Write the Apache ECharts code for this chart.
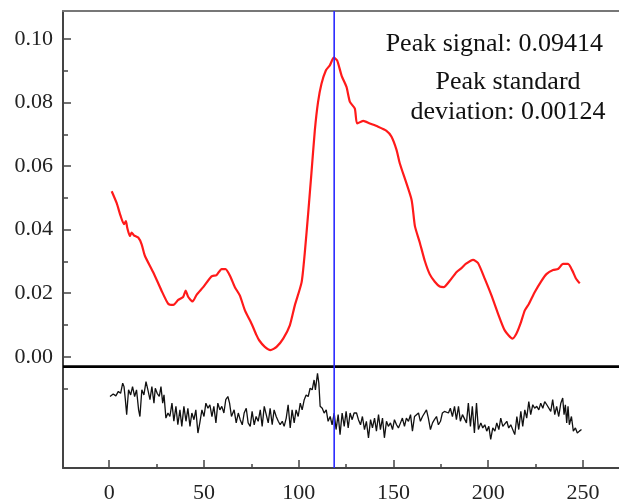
<!DOCTYPE html>
<html>
<head>
<meta charset="utf-8">
<script src="https://cdn.jsdelivr.net/npm/echarts@6/dist/echarts.min.js"></script>
<style>html,body{margin:0;padding:0;background:#fff;}#main{width:619px;height:504px;}</style>
</head>
<body>
<div id="main"></div>
<script>
// ---- data ----
const signalX = [1.3,3.9,6.0,7.8,8.8,9.5,10.9,11.8,13.0,15.3,17.1,18.8,23.2,27.6,31.1,33.8,36.4,39.0,40.3,41.7,44.0,46.1,49.6,54.0,56.6,59.3,61.4,63.7,66.3,68.9,71.6,75.1,77.7,79.1,82.1,85.1,88.3,91.8,95.3,97.9,101.5,103.2,105.0,106.7,108.5,110.2,112.0,114.3,116.4,118.5,120.3,122.6,125.2,127.0,129.6,130.8,134.0,137.5,141.9,146.3,148.9,151.6,153.3,159.5,161.3,163.9,166.5,169.1,171.8,174.4,176.5,179.7,183.2,185.9,188.1,192.0,194.6,198.2,201.7,205.2,208.7,212.8,214.9,217.0,219.3,221.5,224.5,228.1,230.7,234.2,236.8,239.5,242.1,244.4,246.2,248.3];
const signalY = [0.0521,0.0484,0.0443,0.0417,0.0427,0.0406,0.0380,0.0391,0.0382,0.0375,0.0354,0.0318,0.0266,0.0208,0.0167,0.0163,0.0179,0.0188,0.0208,0.0188,0.0174,0.0195,0.0219,0.0253,0.0257,0.0276,0.0276,0.0255,0.0219,0.0193,0.0146,0.0104,0.0068,0.0052,0.0031,0.0021,0.0031,0.0057,0.0099,0.0161,0.0234,0.0328,0.0453,0.0578,0.0713,0.0802,0.0859,0.0901,0.0917,0.0941,0.0932,0.0885,0.0849,0.0802,0.0781,0.0734,0.0742,0.0734,0.0724,0.0711,0.0693,0.0651,0.0609,0.0495,0.0411,0.0359,0.0302,0.0260,0.0236,0.0221,0.0219,0.0239,0.0266,0.0279,0.0292,0.0305,0.0295,0.0245,0.0193,0.0135,0.0083,0.0057,0.0073,0.0104,0.0146,0.0167,0.0203,0.0239,0.0260,0.0273,0.0276,0.0292,0.0292,0.0271,0.0247,0.0231];

const residX = [0.4,2.1,3.5,4.8,6.0,7.1,7.8,8.5,9.2,10.2,11.3,12.3,13.4,14.4,15.5,16.2,17.2,18.3,19.4,20.4,21.5,22.5,23.6,24.3,25.3,26.4,27.3,28.2,28.9,29.9,31.0,32.0,33.1,34.1,35.2,36.2,37.3,38.3,39.4,40.5,41.5,42.6,43.6,44.7,45.7,46.8,47.8,48.9,50.0,51.0,52.1,53.1,54.2,55.2,56.3,57.3,58.4,59.4,60.5,61.5,62.6,
63.5,64.5,65.9,67.0,68.1,69.1,70.2,71.2,72.3,73.3,74.4,75.4,76.5,77.5,78.6,79.7,80.7,81.8,82.8,83.9,84.9,86.0,87.0,88.1,89.2,90.2,91.3,92.3,93.4,94.4,95.5,96.5,97.6,98.6,99.7,100.8,101.8,102.9,103.9,105.0,106.0,107.1,108.1,108.8,109.9,110.6,111.3,112.4,113.4,114.5,115.5,116.6,117.6,118.7,119.7,120.8,121.8,122.9,124.0,125.0,126.1,127.1,128.2,129.2,
130.5,131.5,132.6,133.6,134.7,135.7,136.8,137.9,138.9,140.0,141.0,142.1,143.1,144.2,145.2,146.3,147.3,148.4,149.5,150.5,151.6,152.6,153.7,154.7,155.8,156.8,157.9,159.0,160.0,161.1,162.1,163.2,164.2,165.3,166.3,167.4,168.4,169.5,170.6,171.6,172.7,173.7,174.8,175.8,176.9,177.9,179.0,180.0,181.1,182.2,183.2,184.3,185.3,186.4,187.4,188.5,189.5,190.6,191.6,192.7,193.8,194.8,
196.1,197.1,198.2,199.2,200.3,201.3,202.4,203.5,204.5,205.6,206.6,207.7,208.7,209.8,210.8,211.9,212.9,214.0,215.1,216.1,217.2,218.2,219.3,220.3,221.4,222.4,223.5,224.5,225.6,226.7,227.7,228.8,229.8,230.9,231.9,233.0,234.0,235.1,236.1,237.2,238.3,239.3,240.0,240.7,241.4,242.1,242.8,243.9,244.9,246.0,247.0,248.1,249.2];
const residY = [-0.0125,-0.0117,-0.0123,-0.0109,-0.0115,-0.0083,-0.0094,-0.0135,-0.0182,-0.0104,-0.0120,-0.0094,-0.0125,-0.0104,-0.0167,-0.0188,-0.0104,-0.0120,-0.0078,-0.0104,-0.0135,-0.0094,-0.0146,-0.0099,-0.0115,-0.0125,-0.0094,-0.0146,-0.0120,-0.0193,-0.0177,-0.0188,-0.0146,-0.0203,-0.0156,-0.0214,-0.0167,-0.0219,-0.0156,-0.0203,-0.0162,-0.0219,-0.0177,-0.0198,-0.0167,-0.0240,-0.0208,-0.0167,-0.0188,-0.0146,-0.0162,-0.0151,-0.0188,-0.0156,-0.0208,-0.0146,-0.0167,-0.0156,-0.0177,-0.0135,-0.0125,
-0.0146,-0.0188,-0.0167,-0.0208,-0.0177,-0.0198,-0.0214,-0.0177,-0.0162,-0.0208,-0.0219,-0.0172,-0.0214,-0.0188,-0.0203,-0.0167,-0.0219,-0.0156,-0.0156,-0.0208,-0.0162,-0.0214,-0.0167,-0.0188,-0.0203,-0.0214,-0.0203,-0.0219,-0.0193,-0.0151,-0.0224,-0.0167,-0.0208,-0.0167,-0.0188,-0.0146,-0.0167,-0.0135,-0.0120,-0.0125,-0.0099,-0.0104,-0.0073,-0.0104,-0.0052,-0.0083,-0.0156,-0.0162,-0.0177,-0.0167,-0.0203,-0.0188,-0.0214,-0.0177,-0.0229,-0.0182,-0.0245,-0.0177,-0.0219,-0.0172,-0.0224,-0.0177,-0.0198,-0.0177,
-0.0177,-0.0198,-0.0214,-0.0188,-0.0229,-0.0203,-0.0255,-0.0198,-0.0224,-0.0193,-0.0234,-0.0182,-0.0229,-0.0193,-0.0255,-0.0203,-0.0219,-0.0208,-0.0229,-0.0198,-0.0214,-0.0224,-0.0208,-0.0193,-0.0219,-0.0193,-0.0203,-0.0182,-0.0234,-0.0188,-0.0193,-0.0177,-0.0203,-0.0188,-0.0188,-0.0167,-0.0193,-0.0229,-0.0208,-0.0198,-0.0188,-0.0214,-0.0203,-0.0177,-0.0172,-0.0167,-0.0177,-0.0162,-0.0188,-0.0156,-0.0198,-0.0156,-0.0203,-0.0182,-0.0177,-0.0208,-0.0146,-0.0219,-0.0156,-0.0240,-0.0146,-0.0229,
-0.0208,-0.0224,-0.0214,-0.0234,-0.0219,-0.0260,-0.0224,-0.0234,-0.0208,-0.0229,-0.0193,-0.0219,-0.0214,-0.0203,-0.0224,-0.0214,-0.0219,-0.0245,-0.0188,-0.0229,-0.0172,-0.0219,-0.0167,-0.0193,-0.0141,-0.0182,-0.0151,-0.0162,-0.0156,-0.0167,-0.0146,-0.0162,-0.0141,-0.0151,-0.0146,-0.0172,-0.0135,-0.0182,-0.0156,-0.0188,-0.0146,-0.0130,-0.0182,-0.0151,-0.0208,-0.0156,-0.0214,-0.0188,-0.0234,-0.0224,-0.0240,-0.0234,-0.0229];

const peakX = 118.7;
const separatorY = -0.0031;
const peakSignalText = 'Peak signal: 0.09414';
const peakStdLines = ['Peak standard', 'deviation: 0.00124'];

const xMajorTicks = [0, 50, 100, 150, 200, 250];
const xMinorTicks = [25, 75, 125, 175, 225];
const yMajorTicks = [0, 0.02, 0.04, 0.06, 0.08, 0.10];
const yMinorTicks = [-0.01, 0.01, 0.03, 0.05, 0.07, 0.09];

// ---- chart ----
const xMin = -24.4, xMax = 269, yMin = -0.035, yMax = 0.1088;
const labelFont = { fontFamily: 'Liberation Serif', fontSize: 22, color: '#222' };
const zipPts = (xs, ys) => xs.map((x, i) => [x, ys[i]]);
const annoFont = '26px "Liberation Serif"';

const chart = echarts.init(document.getElementById('main'), null, { renderer: 'canvas' });
chart.setOption({
  animation: false,
  backgroundColor: '#fff',
  grid: { left: 63, right: 0, top: 11, bottom: 34, containLabel: false },
  xAxis: [
    { type: 'value', min: xMin, max: xMax, position: 'bottom',
      axisLine: { show: true, onZero: false, lineStyle: { color: '#444', width: 2 } },
      axisTick: { show: true, inside: true, length: 8, customValues: xMajorTicks, lineStyle: { color: '#444', width: 1.5 } },
      axisLabel: Object.assign({ show: true, margin: 14, customValues: xMajorTicks }, labelFont),
      splitLine: { show: false } },
    { type: 'value', min: xMin, max: xMax, position: 'bottom',
      axisLine: { show: false, onZero: false },
      axisTick: { show: true, inside: true, length: 4, customValues: xMinorTicks, lineStyle: { color: '#444', width: 1.5 } },
      axisLabel: { show: false }, splitLine: { show: false } },
    { type: 'value', min: xMin, max: xMax, position: 'top',
      axisLine: { show: true, onZero: false, lineStyle: { color: '#777', width: 2 } },
      axisTick: { show: false }, axisLabel: { show: false }, splitLine: { show: false } }
  ],
  yAxis: [
    { type: 'value', min: yMin, max: yMax, position: 'left',
      axisLine: { show: true, onZero: false, lineStyle: { color: '#444', width: 2 } },
      axisTick: { show: true, inside: true, length: 8, customValues: yMajorTicks, lineStyle: { color: '#444', width: 1.5 } },
      axisLabel: Object.assign({ show: true, margin: 10, customValues: yMajorTicks, formatter: v => v.toFixed(2) }, labelFont),
      splitLine: { show: false } },
    { type: 'value', min: yMin, max: yMax, position: 'left',
      axisLine: { show: false, onZero: false },
      axisTick: { show: true, inside: true, length: 5, customValues: yMinorTicks, lineStyle: { color: '#444', width: 1.5 } },
      axisLabel: { show: false }, splitLine: { show: false } }
  ],
  series: [
    { type: 'line', name: 'signal', xAxisIndex: 0, yAxisIndex: 0, data: zipPts(signalX, signalY),
      showSymbol: false, smooth: 0.2, lineStyle: { color: '#ff1a1a', width: 2.2 }, z: 3 },
    { type: 'line', name: 'residual', xAxisIndex: 0, yAxisIndex: 0, data: zipPts(residX, residY),
      showSymbol: false, smooth: false, lineStyle: { color: '#111', width: 1.3 }, z: 2 },
    { type: 'line', name: 'separator', xAxisIndex: 0, yAxisIndex: 0,
      data: [[xMin, separatorY], [xMax, separatorY]],
      showSymbol: false, lineStyle: { color: '#000', width: 2.6 }, z: 4 },
    { type: 'line', name: 'peak', xAxisIndex: 0, yAxisIndex: 0,
      data: [[peakX, yMin], [peakX, yMax]],
      showSymbol: false, lineStyle: { color: '#2a2aff', width: 1.6 }, z: 5 }
  ],
  graphic: [
    { type: 'text', x: 603, y: 31, style: { text: peakSignalText, font: annoFont, fill: '#111', textAlign: 'right' } },
    { type: 'text', x: 508, y: 69, style: { text: peakStdLines[0], font: annoFont, fill: '#111', textAlign: 'center' } },
    { type: 'text', x: 508, y: 99, style: { text: peakStdLines[1], font: annoFont, fill: '#111', textAlign: 'center' } }
  ]
});
</script>
</body>
</html>
